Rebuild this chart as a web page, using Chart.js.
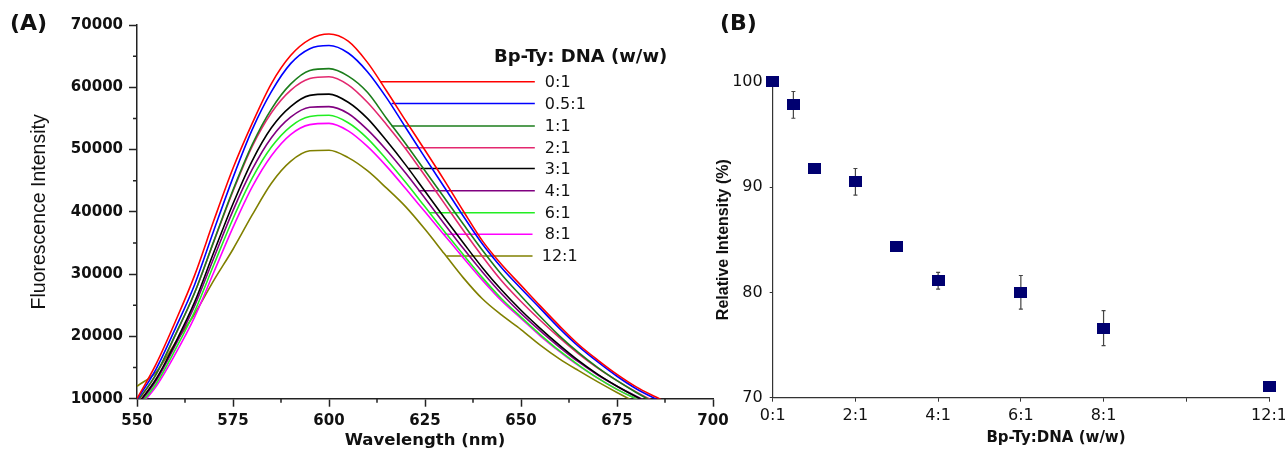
<!DOCTYPE html>
<html lang="en">
<head>
<meta charset="UTF-8">
<title>Bp-Ty : DNA fluorescence quenching</title>
<script src="https://cdn.jsdelivr.net/npm/chart.js"></script>
<style>
    body { margin: 0; background: #fff; }
    .wrap { position: relative; width: 1285px; height: 455px; overflow: hidden; }
    #boxA { position: absolute; left: 0; top: 0; width: 740px; height: 455px; }
    #boxB { position: absolute; left: 700px; top: 0; width: 600px; height: 455px; }
</style>
</head>
<body>
<div class="wrap">
    <div id="boxA"><canvas id="chartA"></canvas></div>
    <div id="boxB"><canvas id="chartB"></canvas></div>
</div>
<script>
// ---- panel A : emission spectra ----
const wavelength = [550, 555, 560, 565, 570, 575, 580, 585, 590, 595, 600, 605, 610, 615, 620,
                    625, 630, 635, 640, 645, 650, 655, 660, 665, 670, 675, 680, 685, 690];
const ratios = ['0:1', '0.5:1', '1:1', '2:1', '3:1', '4:1', '6:1', '8:1', '12:1'];
const colors = ['#ff0000', '#0000ff', '#1b7d1b', '#e3286f', '#000000', '#800080', '#22ee22', '#ff00ff', '#808000'];

const spec_0   = [10000, 15600, 22400, 29800, 38600, 47000, 54200, 60600, 65100, 67700, 68550, 67400, 64000, 59400, 54600, 49900, 45100, 40100, 35300, 31500, 28200, 24900, 21700, 18700, 16200, 13900, 11900, 10300, 8800];
const spec_05  = [9800, 14800, 21300, 28300, 37000, 45500, 53200, 59300, 63800, 66200, 66700, 65500, 62500, 58300, 53500, 48700, 44000, 39300, 34800, 31000, 27700, 24500, 21300, 18400, 15900, 13600, 11600, 10000, 8600];
const spec_1   = [9500, 14000, 20300, 27000, 35300, 43500, 50800, 56500, 60500, 62700, 63000, 61800, 59200, 55000, 50900, 46600, 42300, 38000, 33800, 29900, 26500, 23200, 20100, 17400, 15000, 12900, 11000, 9300, 7900];
const spec_2   = [9400, 13900, 20200, 27000, 35200, 43300, 50500, 55900, 59500, 61400, 61700, 60400, 57600, 54000, 50100, 45800, 41400, 37000, 32800, 28900, 25600, 22600, 19800, 17200, 14900, 12900, 11100, 9500, 8200];
const spec_3   = [9000, 13200, 19000, 25500, 33500, 41300, 48200, 53500, 56900, 58700, 58900, 57600, 55000, 51400, 47500, 43300, 39100, 35000, 31000, 27400, 24200, 21300, 18600, 16100, 13900, 12000, 10300, 8800, 7500];
const spec_4   = [8800, 12900, 18600, 24900, 32600, 40200, 46800, 51900, 55200, 56800, 56900, 55800, 53200, 49900, 46200, 42200, 38100, 34100, 30300, 26800, 23700, 20900, 18300, 15900, 13800, 12000, 10400, 8900, 7600];
const spec_6   = [8500, 12400, 17900, 24000, 31500, 38900, 45400, 50400, 53700, 55300, 55500, 54300, 51800, 48400, 44700, 40800, 36900, 33100, 29400, 26000, 23100, 20300, 17700, 15400, 13300, 11500, 10000, 8500, 7200];
const spec_8   = [8300, 12000, 17200, 23100, 30300, 37500, 44000, 49000, 52400, 54000, 54200, 53000, 50500, 47300, 43700, 40000, 36300, 32600, 29000, 25700, 22900, 20100, 17600, 15300, 13300, 11500, 10000, 8600, 7300];
const spec_12  = [12000, 14300, 19000, 23600, 29000, 34000, 39500, 44600, 48100, 49800, 49900, 48700, 46600, 43800, 40800, 37200, 33300, 29400, 26000, 23400, 21100, 18600, 16400, 14500, 12700, 11000, 9400, 8000, 6800];
const spectra = [spec_0, spec_05, spec_1, spec_2, spec_3, spec_4, spec_6, spec_8, spec_12];

// leader lines of the in-plot legend (nm, intensity)
const leaderFrom  = [613.3, 616.3, 616.3, 619.8, 620.7, 623.3, 626.3, 629.8, 630.6];
const leaderLevel = [60900, 57400, 53800, 50300, 46970, 43400, 39860, 36400, 32900];
const leaderTo    = [653.6, 653.6, 653.6, 653.6, 653.6, 653.6, 653.6, 653.0, 653.0];
const labelAt     = [656.2, 656.2, 656.2, 656.2, 656.2, 656.2, 656.2, 656.2, 655.4];

// ---- panel B : relative intensity ----
const ratioValue   = [0, 0.5, 1, 2, 3, 4, 6, 8, 12];
const relIntensity = [100, 97.8, 91.8, 90.5, 84.4, 81.1, 80.0, 76.6, 71.1];
const relError     = [0, 1.27, 0, 1.26, 0, 0.8, 1.6, 1.66, 0];
const ratioTicks   = { 0: '0:1', 2: '2:1', 4: '4:1', 6: '6:1', 8: '8:1', 10: '', 12: '12:1' };

const axisColor = '#222';
Chart.defaults.color = '#111';
Chart.defaults.animation = false;

const specDatasets = spectra.map((vals, i) => ({
    label: ratios[i],
    data: vals.map((v, j) => ({ x: wavelength[j], y: v })),
    borderColor: colors[i],
    borderWidth: 1.6,
    pointRadius: 0,
    cubicInterpolationMode: 'monotone'
}));
const leaderDatasets = ratios.map((r, i) => ({
    label: r + ' leader',
    data: [{ x: leaderFrom[i], y: leaderLevel[i] }, { x: leaderTo[i], y: leaderLevel[i] }],
    borderColor: colors[i],
    borderWidth: 1.5,
    pointRadius: 0
}));

const extrasA = {
    id: 'extrasA',
    afterDraw(chart) {
        const { ctx, chartArea: ca, scales: { x, y } } = chart;
        ctx.save();
        // minor ticks
        ctx.strokeStyle = axisColor;
        ctx.lineWidth = 1.5;
        ctx.beginPath();
        for (let v = 15000; v < 70000; v += 10000) {
            const py = y.getPixelForValue(v);
            ctx.moveTo(ca.left - 4, py); ctx.lineTo(ca.left, py);
        }
        for (let v = 562.5; v < 700; v += 25) {
            const px = x.getPixelForValue(v);
            ctx.moveTo(px, ca.bottom); ctx.lineTo(px, ca.bottom + 4);
        }
        ctx.stroke();
        // legend labels
        ctx.fillStyle = '#111';
        ctx.textBaseline = 'middle';
        ctx.font = '16px "DejaVu Sans"';
        ratios.forEach((r, i) => {
            ctx.fillText(r, x.getPixelForValue(labelAt[i]), y.getPixelForValue(leaderLevel[i]) + 1);
        });
        ctx.font = 'bold 18px "DejaVu Sans"';
        ctx.fillText('Bp-Ty: DNA (w/w)', 494, 57);
        ctx.font = 'bold 22px "DejaVu Sans"';
        ctx.fillText('(A)', 10, 24);
        ctx.restore();
    }
};

new Chart(document.getElementById('chartA'), {
    type: 'line',
    data: { datasets: specDatasets.concat(leaderDatasets) },
    options: {
        responsive: true,
        maintainAspectRatio: false,
        layout: { padding: { left: 0, top: 25, right: 27, bottom: 0 } },
        plugins: { legend: { display: false }, tooltip: { enabled: false } },
        scales: {
            x: {
                type: 'linear', min: 550, max: 700,
                afterFit: s => { s.height = 56.3; },
                ticks: { stepSize: 25, padding: 5, font: { family: 'DejaVu Sans', size: 15, weight: 'bold' }, maxRotation: 0 },
                grid: { drawOnChartArea: false, tickLength: 8, tickColor: axisColor, tickWidth: 1.5 },
                border: { color: axisColor, width: 1.5 },
                title: { display: true, text: 'Wavelength (nm)', padding: { bottom: 4 },
                         font: { family: 'DejaVu Sans', size: 16.5, weight: 'bold' } }
            },
            y: {
                min: 10000, max: 70000,
                afterFit: s => { s.width = 137; },
                ticks: { stepSize: 10000, padding: 6, callback: v => String(v),
                         font: { family: 'DejaVu Sans', size: 15, weight: 'bold' } },
                grid: { drawOnChartArea: false, tickLength: 8, tickColor: axisColor, tickWidth: 1.5 },
                border: { color: axisColor, width: 1.5 },
                title: { display: true, text: 'Fluorescence Intensity', padding: { top: 28 },
                         font: { family: 'Liberation Sans', size: 19.5 } }
            }
        }
    },
    plugins: [extrasA]
});

// ---- panel B ----
function squareMarker(w, h, color) {
    const c = document.createElement('canvas');
    c.width = w; c.height = h;
    const g = c.getContext('2d');
    g.fillStyle = color;
    g.fillRect(0, 0, w, h);
    return c;
}

const extrasB = {
    id: 'extrasB',
    beforeDatasetsDraw(chart) {
        const { ctx, scales: { x, y } } = chart;
        ctx.save();
        ctx.strokeStyle = '#444';
        ctx.lineWidth = 1.2;
        ctx.beginPath();
        ratioValue.forEach((r, i) => {
            if (!relError[i]) return;
            const px = x.getPixelForValue(r);
            const top = y.getPixelForValue(relIntensity[i] + relError[i]);
            const bot = y.getPixelForValue(relIntensity[i] - relError[i]);
            ctx.moveTo(px, top); ctx.lineTo(px, bot);
            ctx.moveTo(px - 2, top); ctx.lineTo(px + 2, top);
            ctx.moveTo(px - 2, bot); ctx.lineTo(px + 2, bot);
        });
        ctx.stroke();
        ctx.restore();
    },
    afterDraw(chart) {
        const { ctx } = chart;
        ctx.save();
        ctx.fillStyle = '#111';
        ctx.textBaseline = 'middle';
        ctx.font = 'bold 22px "DejaVu Sans"';
        ctx.fillText('(B)', 20, 24);
        ctx.font = 'bold 15px "DejaVu Sans"';
        ctx.textAlign = 'center';
        ctx.fillText('Bp-Ty:DNA (w/w)', 356, 438);
        ctx.restore();
    }
};

new Chart(document.getElementById('chartB'), {
    type: 'scatter',
    data: {
        datasets: [{
            label: 'Relative Intensity',
            data: ratioValue.map((r, i) => ({ x: r, y: relIntensity[i] })),
            pointStyle: squareMarker(13, 11, '#000070'),
            clip: false
        }]
    },
    options: {
        responsive: true,
        maintainAspectRatio: false,
        layout: { padding: { left: 0, top: 81.7, right: 31, bottom: 0 } },
        plugins: { legend: { display: false }, tooltip: { enabled: false } },
        scales: {
            x: {
                type: 'linear', min: 0, max: 12,
                afterFit: s => { s.height = 57.3; },
                ticks: { stepSize: 2, padding: 5, maxRotation: 0, callback: v => ratioTicks[v] ?? '',
                         font: { family: 'DejaVu Sans', size: 16 } },
                grid: { drawOnChartArea: false, tickLength: 4, tickColor: '#333' },
                border: { color: '#333', width: 1.2 },
                title: { display: false }
            },
            y: {
                min: 70, max: 100,
                afterFit: s => { s.width = 72.7; },
                ticks: { stepSize: 10, padding: 7, font: { family: 'DejaVu Sans', size: 16 } },
                grid: { drawOnChartArea: false, tickLength: 3, tickColor: '#333' },
                border: { color: '#333', width: 1.2 },
                title: { display: true, text: 'Relative Intensity (%)', padding: { top: 14.4 },
                         font: { family: 'Liberation Sans', size: 16, weight: 'bold' } }
            }
        }
    },
    plugins: [extrasB]
});
</script>
</body>
</html>
